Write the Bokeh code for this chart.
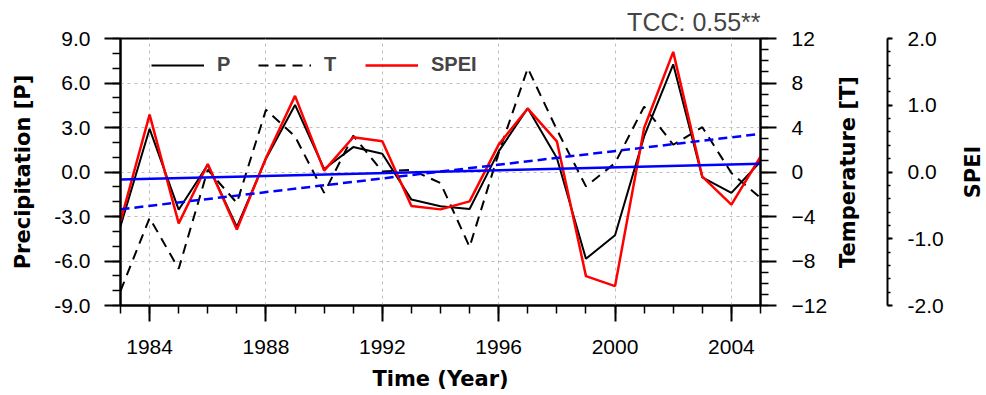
import numpy as np
from bokeh.plotting import figure
from bokeh.layouts import row
from bokeh.models import (Range1d, LinearAxis, FixedTicker, NumeralTickFormatter,
                          BasicTickFormatter, Legend, LegendItem, Label)
from bokeh.embed import file_html
from bokeh.resources import INLINE

# ---------------- data ----------------
years = list(range(1983, 2006))
precip = [-3.66, 2.91, -2.54, 0.49, -3.70, 0.90, 4.52, 0.20, 1.68, 1.23, -1.86, -2.31,
          -2.49, 1.39, 4.30, 0.94, -5.85, -4.26, 2.40, 7.26, -0.36, -1.41, 0.71]
temp = [-10.7, -4.13, -8.70, 0.20, -2.78, 5.59, 3.19, -1.88, 3.26, 0.05, 0.20, -0.99,
        -6.73, 1.70, 9.33, 3.80, -1.29, 0.80, 5.88, 2.45, 4.03, -0.09, -2.33]
spei = [-0.74, 0.86, -0.77, 0.12, -0.86, 0.21, 1.14, 0.02, 0.52, 0.46, -0.51, -0.56,
        -0.44, 0.41, 0.95, 0.46, -1.56, -1.71, 0.66, 1.80, -0.07, -0.49, 0.23]

p_ticks = [-9, -6, -3, 0, 3, 6, 9]
p_minor = list(range(-9, 10))
t_ticks = [-12, -8, -4, 0, 4, 8, 12]
t_minor = list(range(-12, 13))
s_ticks = [-2, -1, 0, 1, 2]
s_minor = [round(-2 + 0.2 * i, 1) for i in range(21)]
x_ticks = [1984, 1988, 1992, 1996, 2000, 2004]
x_minor = years

title_text = "TCC: 0.55**"
x_label = "Time (Year)"
p_label = "Precipitation [P]"
t_label = "Temperature [T]"
s_label = "SPEI"
legend_labels = ["P", "T", "SPEI"]

# linear trends computed from the series
cp = np.polyfit(years, precip, 1)
ct = np.polyfit(years, temp, 1)
trend_x = [years[0], years[-1]]
trend_p = list(np.polyval(cp, trend_x))
trend_t = list(np.polyval(ct, trend_x))

TICK_FONT = "Liberation Sans"
LABEL_FONT = "DejaVu Sans"
H = 393
TOP, BOTTOM = 38, 87


def style_axis(ax, ticks, minor, tick_out=16, minor_out=8):
    ax.ticker = FixedTicker(ticks=ticks, minor_ticks=minor)
    ax.axis_line_width = 2
    ax.axis_line_color = "black"
    ax.major_tick_line_width = 2
    ax.minor_tick_line_width = 1.5
    ax.major_tick_line_color = "black"
    ax.minor_tick_line_color = "black"
    ax.major_tick_in = 0
    ax.minor_tick_in = 0
    ax.major_tick_out = tick_out
    ax.minor_tick_out = minor_out
    ax.major_label_text_font = TICK_FONT
    ax.major_label_text_font_size = "21px"
    ax.major_label_text_color = "black"
    ax.major_label_standoff = 14
    ax.axis_label_text_font = LABEL_FONT
    ax.axis_label_text_font_style = "bold"
    ax.axis_label_text_font_size = "21px"
    ax.axis_label_text_color = "black"


# ---------------- main panel ----------------
p = figure(width=830, height=H, output_backend="svg", toolbar_location=None,
           x_range=Range1d(1983, 2005), y_range=Range1d(-9, 9),
           min_border_left=120, min_border_right=70, min_border_top=TOP,
           min_border_bottom=BOTTOM, background_fill_color="white",
           border_fill_color="white")
p.extra_y_ranges = {"temp": Range1d(-12, 12), "spei": Range1d(-2, 2)}

p.title.text = title_text
p.title.align = "right"
p.title.text_font = TICK_FONT
p.title.text_font_size = "25px"
p.title.text_font_style = "normal"
p.title.standoff = 5

p.outline_line_color = "black"
p.outline_line_width = 2
p.outline_line_alpha = 1

xa = p.xaxis[0]
style_axis(xa, x_ticks, x_minor)
xa.formatter = BasicTickFormatter(use_scientific=False)
xa.axis_label = x_label
xa.axis_label_standoff = 10
xa.major_label_standoff = 18

ya = p.yaxis[0]
style_axis(ya, p_ticks, p_minor)
ya.formatter = NumeralTickFormatter(format="0.0")
ya.axis_label = p_label
ya.axis_label_standoff = 16

ta = LinearAxis(y_range_name="temp")
style_axis(ta, t_ticks, t_minor)
ta.major_label_standoff = 15
p.add_layout(ta, "right")

p.xgrid.ticker = FixedTicker(ticks=x_ticks)
p.ygrid.ticker = FixedTicker(ticks=p_ticks)
for g in (p.xgrid[0], p.ygrid[0]):
    g.grid_line_color = "#bdbdbd"
    g.grid_line_dash = "3 4"
    g.grid_line_width = 1

rT = p.line(years, temp, y_range_name="temp", line_color="black", line_width=2,
            line_dash="10 7")
rP = p.line(years, precip, line_color="black", line_width=2)
rS = p.line(years, spei, y_range_name="spei", line_color="#ff0000", line_width=2.5)
p.line(trend_x, trend_t, y_range_name="temp", line_color="#0000ff", line_width=2.5,
       line_dash="9 5")
p.line(trend_x, trend_p, line_color="#0000ff", line_width=2.5)

legend = Legend(items=[LegendItem(label=legend_labels[0], renderers=[rP]),
                       LegendItem(label=legend_labels[1], renderers=[rT]),
                       LegendItem(label=legend_labels[2], renderers=[rS])],
                orientation="horizontal", location=(31, 229),
                border_line_color=None, background_fill_alpha=0,
                label_text_font=TICK_FONT, label_text_font_style="bold",
                label_text_font_size="20px", glyph_width=53, label_standoff=13,
                spacing=21, padding=0, margin=0)
p.add_layout(legend)

# ---------------- strip with the temperature title and SPEI axis ----------------
p2 = figure(width=116, height=H, output_backend="svg", toolbar_location=None,
            x_range=Range1d(0, 58), y_range=Range1d(-2, 2),
            x_axis_location=None, y_axis_location="right",
            min_border_left=0, min_border_right=58, min_border_top=TOP,
            min_border_bottom=BOTTOM, background_fill_color="white",
            border_fill_color="white", outline_line_color=None)
p2.grid.visible = False
sa = p2.yaxis[0]
style_axis(sa, s_ticks, s_minor, tick_out=5, minor_out=3)
sa.formatter = NumeralTickFormatter(format="0.0")
sa.major_label_standoff = 15
p2.add_layout(Label(x=17.5, y=0, text=t_label, angle=np.pi / 2,
                    text_align="center", text_baseline="alphabetic",
                    text_font=LABEL_FONT, text_font_style="bold",
                    text_font_size="21px", text_color="black"))

# ---------------- strip with the SPEI title ----------------
p3 = figure(width=38, height=H, output_backend="svg", toolbar_location=None,
            x_range=Range1d(0, 38), y_range=Range1d(-2, 2),
            x_axis_location=None, y_axis_location=None,
            min_border_left=0, min_border_right=0, min_border_top=TOP,
            min_border_bottom=BOTTOM, background_fill_color="white",
            border_fill_color="white", outline_line_color=None)
p3.grid.visible = False
p3.add_layout(Label(x=26.5, y=0, text=s_label, angle=np.pi / 2,
                    text_align="center", text_baseline="alphabetic",
                    text_font=LABEL_FONT, text_font_style="bold",
                    text_font_size="21px", text_color="black"))

layout = row(p, p2, p3, spacing=0)
open("out.html", "w").write(file_html(layout, INLINE))
